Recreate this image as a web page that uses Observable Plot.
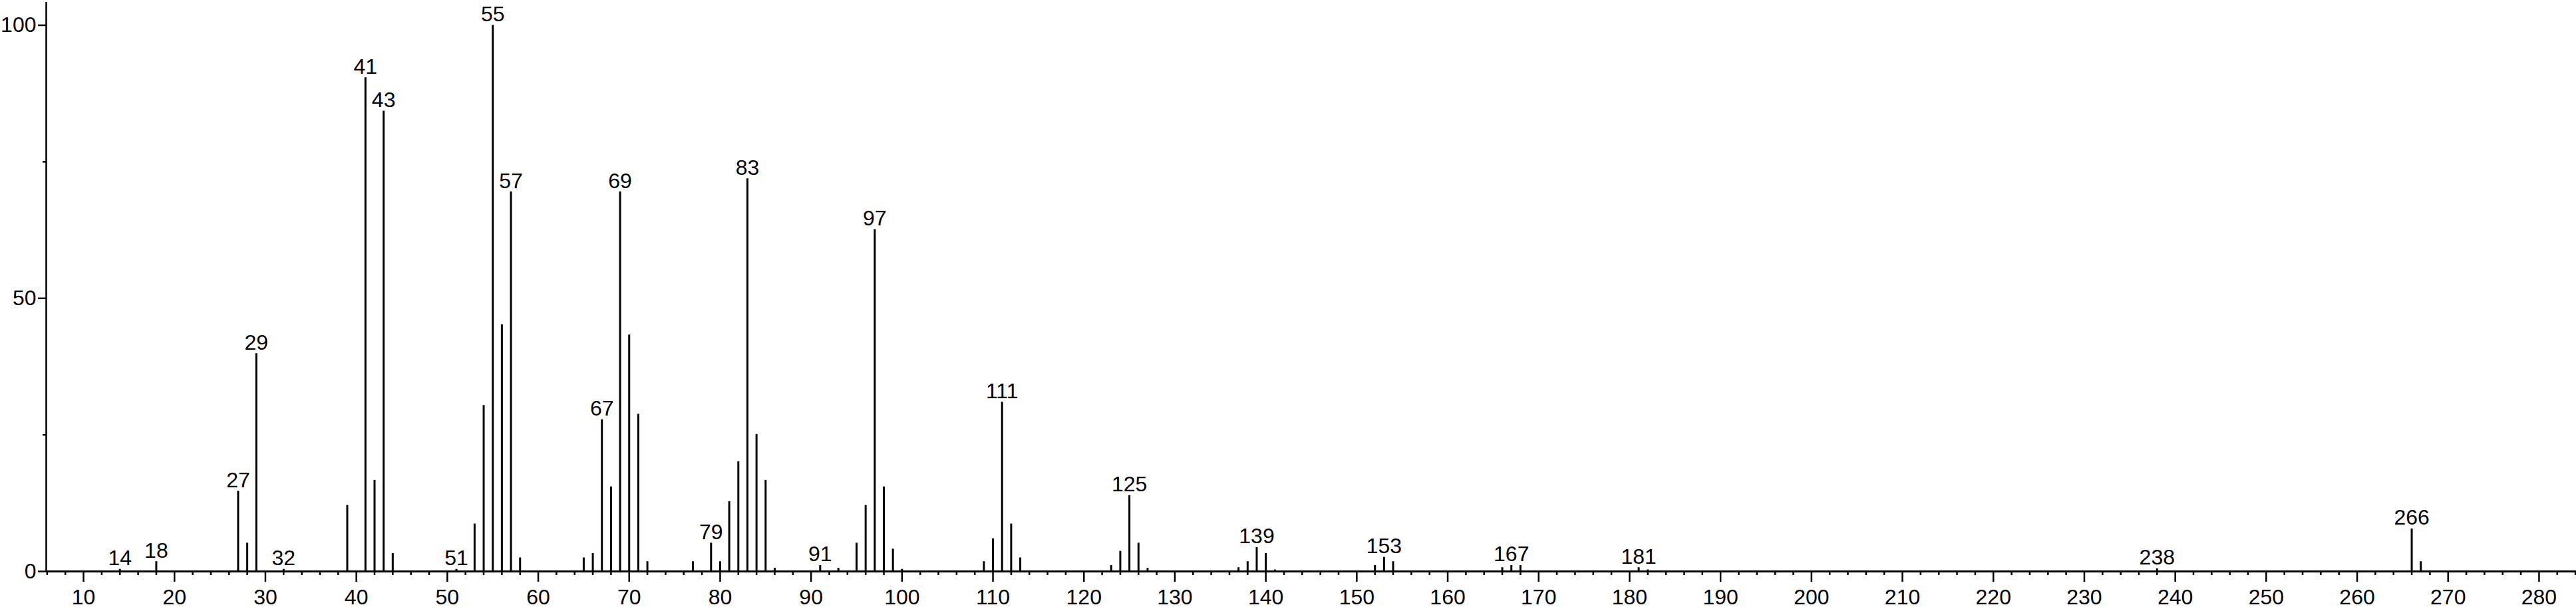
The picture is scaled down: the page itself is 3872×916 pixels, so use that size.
<!DOCTYPE html>
<html>
<head>
<meta charset="utf-8">
<script src="https://cdn.jsdelivr.net/npm/d3@7"></script>
<script src="https://cdn.jsdelivr.net/npm/@observablehq/plot@0.6"></script>
<style>
  html, body { margin: 0; padding: 0; background: #fff; overflow: hidden; }
</style>
</head>
<body>
<div id="chart"></div>
<script>
// m/z values and relative intensities (%)
const mz = [14,18,27,28,29,32,39,41,42,43,44,51,53,54,55,56,57,58,65,66,67,68,69,70,71,72,77,79,80,81,82,83,84,85,86,91,93,95,96,97,98,99,100,109,110,111,112,113,123,124,125,126,127,137,138,139,140,141,152,153,154,166,167,168,181,182,238,266,267];
const intensity = [0.4,1.8,14.7,5.2,39.9,0.4,12.1,90.4,16.7,84.3,3.3,0.4,8.7,30.4,100,45.2,69.5,2.5,2.5,3.3,27.8,15.5,69.5,43.3,28.8,1.8,1.8,5.2,1.8,12.8,20.1,71.9,25.1,16.7,0.6,1.1,0.6,5.2,12.1,62.6,15.5,4.1,0.4,1.8,6.0,31.0,8.7,2.5,1.1,3.7,13.9,5.2,0.6,0.7,1.8,4.4,3.3,0.3,1.1,2.6,1.8,0.7,1.1,1.1,0.7,0.3,0.5,7.8,1.8];
// peaks carrying a label
const labeledMz = [14,18,27,29,32,41,43,51,55,57,67,69,79,83,91,97,111,125,139,153,167,181,238,266];
// axis ticks
const xMajorTicks = d3.range(10, 281, 10);
const xMinorTicks = d3.range(6, 285, 2).filter(v => v % 10 !== 0);
const yMajorTicks = [0, 50, 100];
const yMinorTicks = [25, 75];

const peaks = mz.map((m, i) => ({mz: m, intensity: intensity[i]}));
const labeled = peaks.filter(d => labeledMz.includes(d.mz));

const xDomain = [5.9, 284.1];
const yDomain = [0, 104.2];

const chart = Plot.plot({
  width: 3872,
  height: 916,
  marginLeft: 69,
  marginRight: 0,
  marginTop: 3,
  marginBottom: 57,
  style: {fontFamily: "'Liberation Sans', Arial, Helvetica, sans-serif", fontSize: "32px", color: "#000", background: "#fff", overflow: "visible"},
  x: {domain: xDomain},
  y: {domain: yDomain},
  marks: [
    Plot.axisX({ticks: xMinorTicks, tickSize: 6, text: null, strokeWidth: 2.5, label: null}),
    Plot.axisX({ticks: xMajorTicks, tickSize: 16, tickPadding: 11, tickFormat: d => String(d), strokeWidth: 2.5, fontSize: 32, label: null}),
    Plot.axisY({ticks: yMinorTicks, tickSize: 5, text: null, strokeWidth: 2.5, label: null}),
    Plot.axisY({ticks: yMajorTicks, tickSize: 12, tickPadding: 3, tickFormat: d => String(d), strokeWidth: 2.5, fontSize: 32, label: null}),
    Plot.ruleX(peaks, {x: "mz", y1: 0, y2: "intensity", stroke: "#000", strokeWidth: 3}),
    Plot.ruleY([0], {stroke: "#000", strokeWidth: 3}),
    Plot.ruleX([xDomain[0]], {stroke: "#000", strokeWidth: 2.5}),
    Plot.text(labeled, {x: "mz", y: "intensity", text: d => String(d.mz), dy: -6, lineAnchor: "bottom", textAnchor: "middle", fontSize: 32, fill: "#000"})
  ]
});
document.getElementById("chart").appendChild(chart);
</script>
</body>
</html>
